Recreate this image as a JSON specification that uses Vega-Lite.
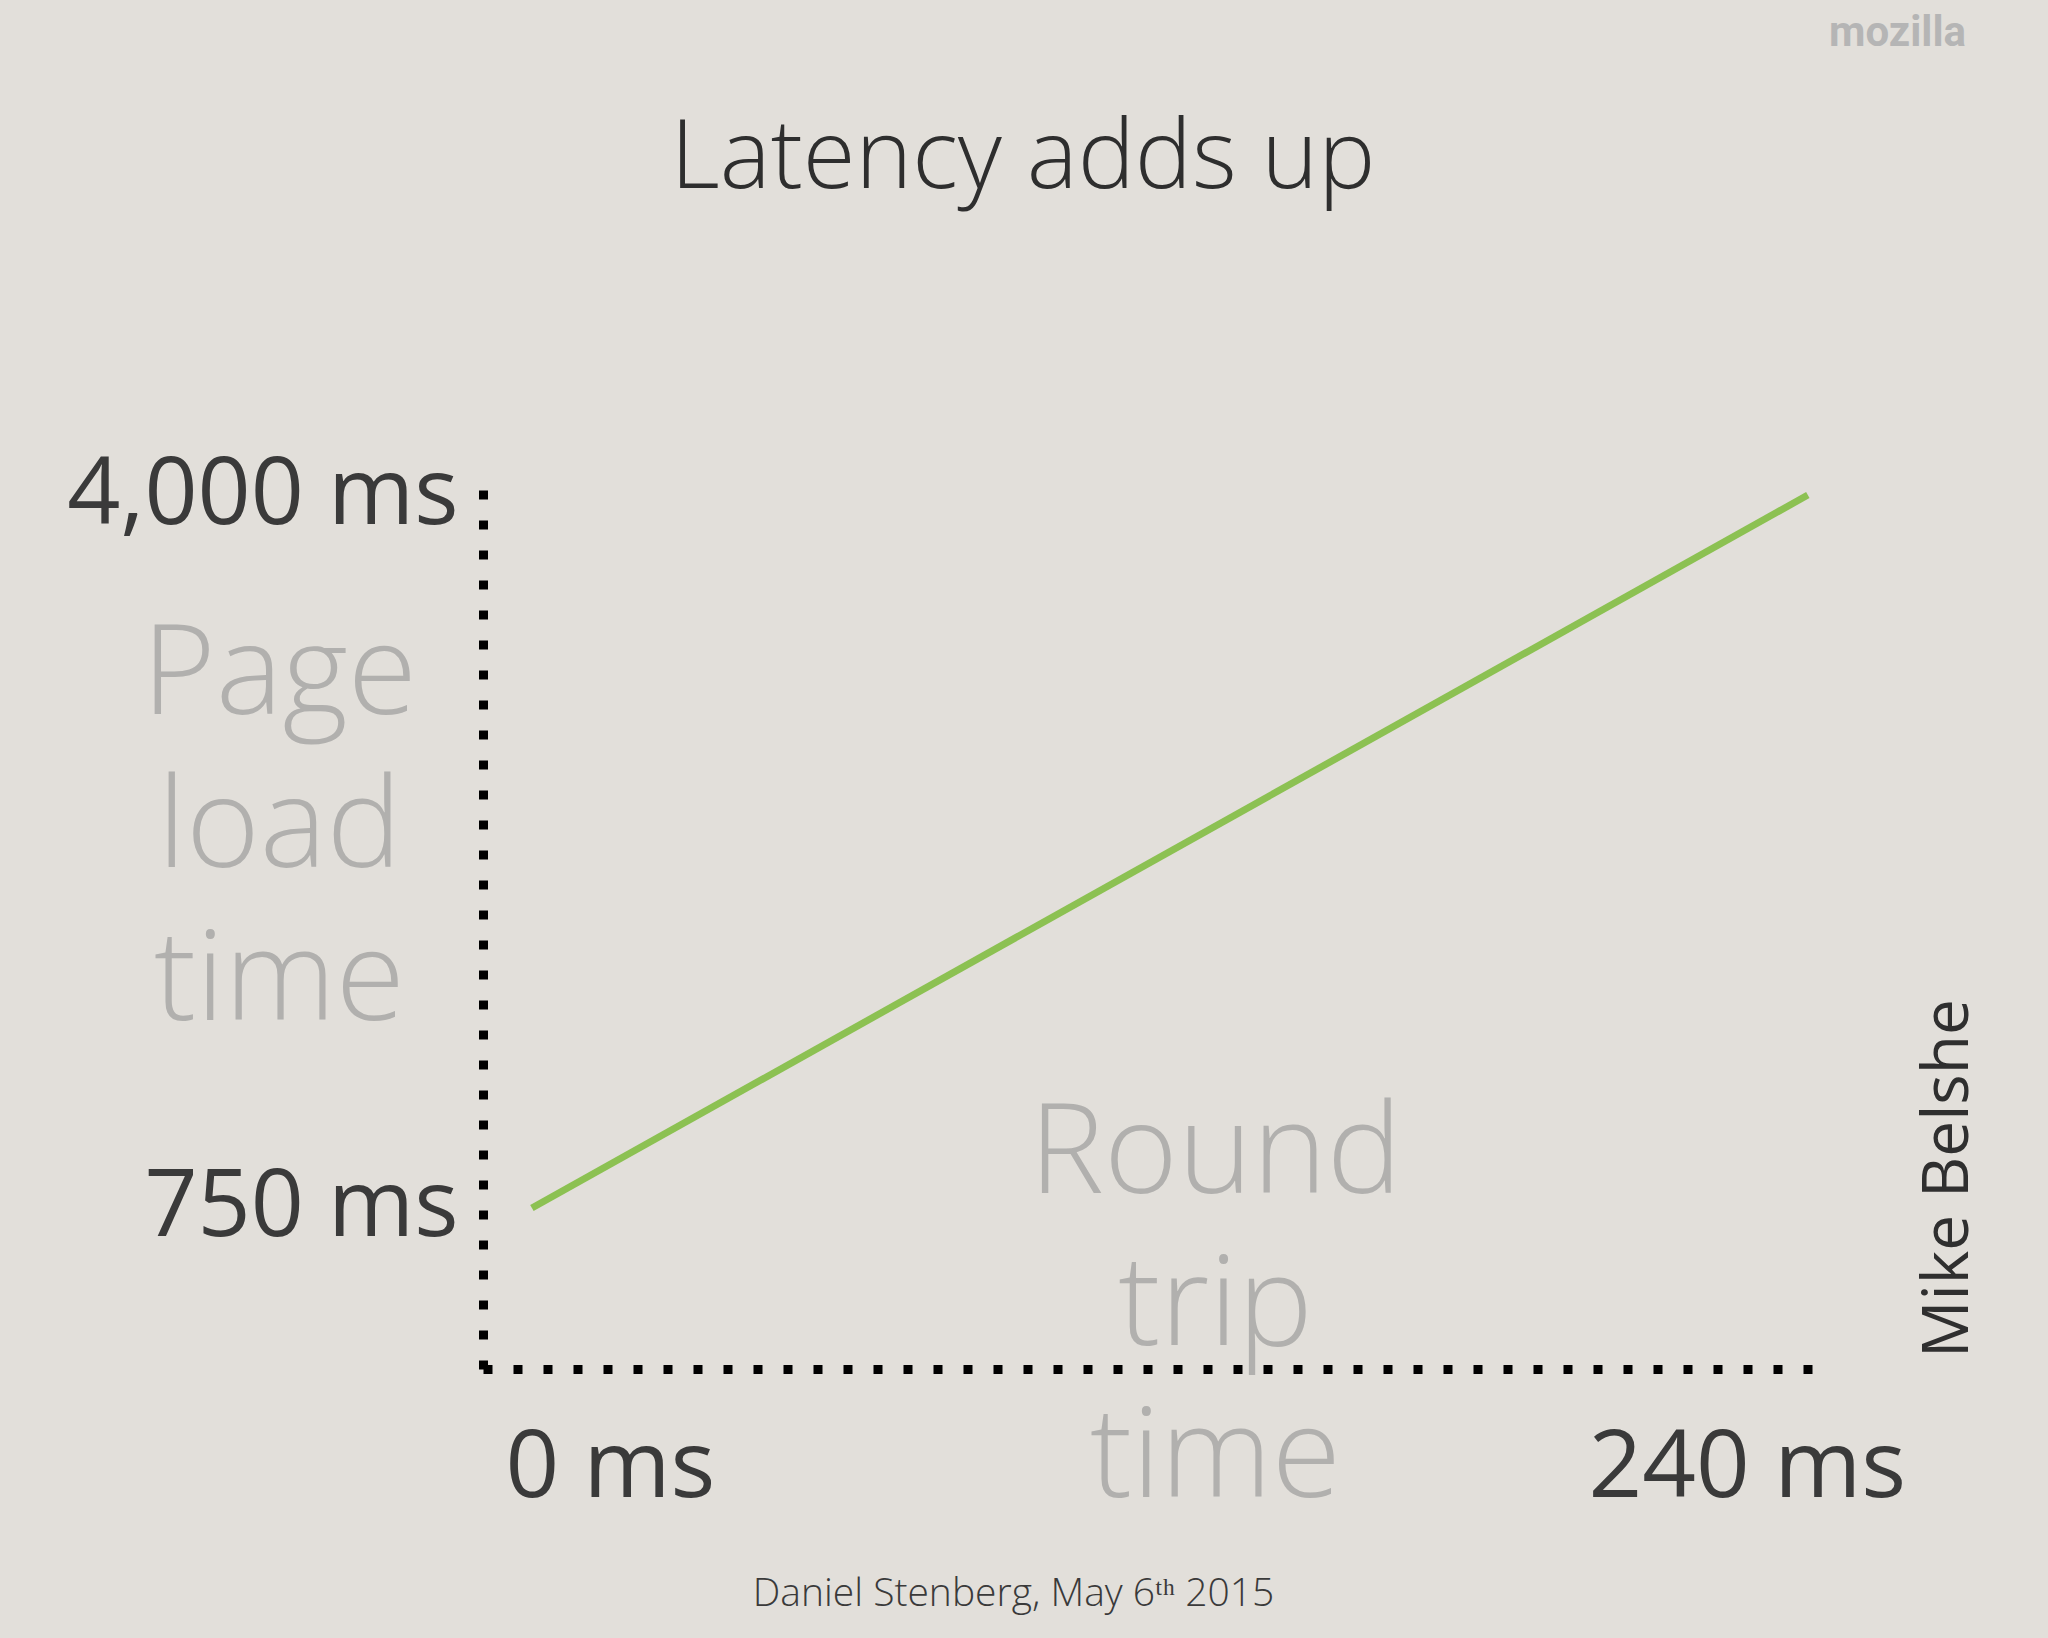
{
  "$schema": "https://vega.github.io/schema/vega-lite/v6.json",
  "width": 1336,
  "height": 888,
  "autosize": {"type": "none"},
  "padding": {"left": 483, "top": 481, "right": 229, "bottom": 269},
  "background": "#e2dfda",
  "title": {
    "text": "Latency adds up",
    "anchor": "middle",
    "baseline": "top",
    "dx": -128,
    "offset": -197,
    "font": "Open Sans",
    "fontSize": 96,
    "fontWeight": 300,
    "color": "#2e2e2e"
  },
  "data": {"values": [{"rtt": 0, "plt": 750}, {"rtt": 240, "plt": 4000}]},
  "layer": [
    {
      "mark": {"type": "line", "color": "#8cc152", "strokeWidth": 7, "strokeCap": "butt"},
      "encoding": {
        "x": {
          "field": "rtt",
          "type": "quantitative",
          "scale": {"domain": [-9.2, 242.1], "nice": false, "zero": false},
          "axis": {
            "orient": "bottom",
            "values": [0, 240],
            "labelExpr": "datum.value + ' ms'",
            "grid": false,
            "ticks": false,
            "tickSize": 0,
            "domain": true,
            "domainColor": "#000000",
            "domainWidth": 9,
            "domainDash": [9, 21],
            "domainCap": "butt",
            "labelFont": "Open Sans",
            "labelFontSize": 94,
            "labelColor": "#3a3a3a",
            "labelPadding": 53,
            "labelLimit": 0,
            "labelFlush": false,
            "labelOverlap": false,
            "labelAlign": "center",
            "labelOffset": {"condition": {"test": "datum.value < 120", "value": 78}, "value": -61},
            "title": ["Round", "trip", "time"],
            "titleFont": "Open Sans",
            "titleFontSize": 126,
            "titleFontWeight": 300,
            "titleColor": "#b1b0ae",
            "titleX": 732,
            "titleY": -177,
            "titleAlign": "center",
            "titleBaseline": "alphabetic",
            "titleAngle": 0,
            "titleLineHeight": 152
          }
        },
        "y": {
          "field": "plt",
          "type": "quantitative",
          "scale": {"domain": [16, 4064], "nice": false, "zero": false},
          "axis": {
            "orient": "left",
            "values": [750, 4000],
            "labelExpr": "format(datum.value, ',') + ' ms'",
            "grid": false,
            "ticks": false,
            "tickSize": 0,
            "domain": true,
            "domainColor": "#000000",
            "domainWidth": 9,
            "domainDash": [9, 21],
            "domainCap": "butt",
            "labelFont": "Open Sans",
            "labelFontSize": 93,
            "labelColor": "#3a3a3a",
            "labelPadding": 25,
            "labelLimit": 0,
            "labelFlush": false,
            "labelOverlap": false,
            "title": ["Page", "load", "time"],
            "titleFont": "Open Sans",
            "titleFontSize": 126,
            "titleFontWeight": 300,
            "titleColor": "#b1b0ae",
            "titleX": -204,
            "titleY": 232,
            "titleAlign": "center",
            "titleBaseline": "alphabetic",
            "titleAngle": 0,
            "titleLineHeight": 153
          }
        }
      }
    },
    {
      "mark": {"type": "line", "opacity": 0},
      "encoding": {
        "x": {
          "field": "rtt",
          "type": "quantitative",
          "scale": {"domain": [-9.2, 242.1], "nice": false, "zero": false},
          "axis": {
            "orient": "top",
            "labels": false,
            "ticks": false,
            "domain": false,
            "grid": false,
            "title": "mozilla",
            "titleFont": "Roboto",
            "titleFontSize": 42,
            "titleFontWeight": "bold",
            "titleColor": "#b5b5b5",
            "titleX": 1414,
            "titleY": -436,
            "titleAlign": "center",
            "titleBaseline": "alphabetic",
            "titleAngle": 0
          }
        },
        "y": {
          "field": "plt",
          "type": "quantitative",
          "scale": {"domain": [16, 4064], "nice": false, "zero": false},
          "axis": {
            "orient": "right",
            "labels": false,
            "ticks": false,
            "domain": false,
            "grid": false,
            "title": "Mike Belshe",
            "titleFont": "Open Sans",
            "titleFontSize": 64,
            "titleFontWeight": 400,
            "titleColor": "#2f2f2f",
            "titleX": 148,
            "titleY": 697,
            "titleAlign": "center",
            "titleBaseline": "alphabetic",
            "titleAngle": 270
          }
        }
      }
    },
    {
      "mark": {"type": "line", "opacity": 0},
      "encoding": {
        "x": {
          "field": "rtt",
          "type": "quantitative",
          "scale": {"domain": [-9.2, 242.1], "nice": false, "zero": false},
          "axis": {
            "orient": "bottom",
            "labels": false,
            "ticks": false,
            "domain": false,
            "grid": false,
            "title": "Daniel Stenberg, May 6ᵗʰ 2015",
            "titleFont": "Open Sans",
            "titleFontSize": 39,
            "titleFontWeight": 300,
            "titleColor": "#3a3a3a",
            "titleX": 530,
            "titleY": 236,
            "titleAlign": "center",
            "titleBaseline": "alphabetic",
            "titleAngle": 0
          }
        },
        "y": {
          "field": "plt",
          "type": "quantitative",
          "scale": {"domain": [16, 4064], "nice": false, "zero": false},
          "axis": null
        }
      }
    }
  ],
  "resolve": {"axis": {"x": "independent", "y": "independent"}},
  "config": {"view": {"stroke": null}}
}
